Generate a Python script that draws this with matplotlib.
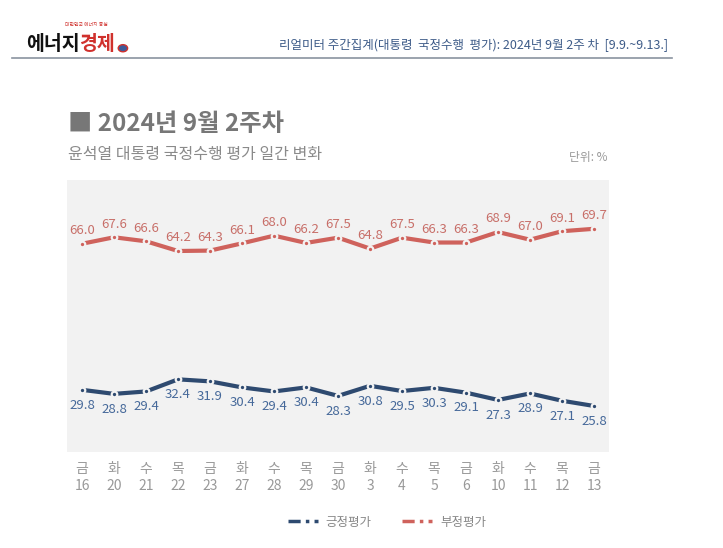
import matplotlib.pyplot as plt
from matplotlib.lines import Line2D
from matplotlib.patches import Circle

plt.rcParams['font.family'] = ['Noto Sans CJK KR', 'DejaVu Sans']
plt.rcParams['axes.unicode_minus'] = False

# data
days = ['금', '화', '수', '목', '금', '화', '수', '목', '금', '화', '수', '목', '금', '화', '수', '목', '금']
dates = ['16', '20', '21', '22', '23', '27', '28', '29', '30', '3', '4', '5', '6', '10', '11', '12', '13']
negative = [66.0, 67.6, 66.6, 64.2, 64.3, 66.1, 68.0, 66.2, 67.5, 64.8, 67.5, 66.3, 66.3, 68.9, 67.0, 69.1, 69.7]
positive = [29.8, 28.8, 29.4, 32.4, 31.9, 30.4, 29.4, 30.4, 28.3, 30.8, 29.5, 30.3, 29.1, 27.3, 28.9, 27.1, 25.8]

bg = '#f2f2f2'
red = '#cf625c'
blue = '#2e4a70'
red_txt = '#c86f69'
blue_txt = '#46699a'

fig = plt.figure(figsize=(7.23, 5.48), dpi=100)
ax = fig.add_axes([0.0927, 0.1752, 0.7497, 0.4964])
ax.set_facecolor(bg)
for s in ax.spines.values():
    s.set_visible(False)

x = list(range(len(days)))
line_kw = dict(linewidth=3, marker='o', markersize=4, markeredgewidth=1.6,
               markeredgecolor=bg, solid_capstyle='butt')
ax.plot(x, negative, color=red, markerfacecolor=red, **line_kw)
ax.plot(x, positive, color=blue, markerfacecolor=blue, **line_kw)

for i, v in enumerate(negative):
    ax.annotate(f'{v:.1f}', (i, v), xytext=(0, 9.5), textcoords='offset points',
                ha='center', va='center', fontsize=9.5, color=red_txt)
for i, v in enumerate(positive):
    ax.annotate(f'{v:.1f}', (i, v), xytext=(0, -11), textcoords='offset points',
                ha='center', va='center', fontsize=9.5, color=blue_txt)

ax.set_xlim(-0.47, len(days) - 1 + 0.47)
ax.set_ylim(14.4, 81.8)
ax.set_yticks([])
ax.set_xticks(x)
ax.set_xticklabels([f'{d}\n{n}' for d, n in zip(days, dates)], fontsize=10,
                   color='#999999', linespacing=1.3)
ax.tick_params(axis='x', length=0, pad=7)

# header logo
fig.text(0.036, 0.918, '에너지', fontsize=14, fontweight='black', color='#111111', va='center')
fig.text(0.110, 0.918, '경제', fontsize=14, fontweight='black', color='#d0312d', va='center')
fig.text(0.120, 0.955, '대한민국 에너지 중심', fontsize=3.5, color='#d0312d', va='center', ha='center')
fig.add_artist(Circle((0.170, 0.912), 0.0065, transform=fig.transFigure,
                      facecolor='#3d5b9a', edgecolor='#d0312d', linewidth=1.0))
fig.text(0.924, 0.917, '리얼미터 주간집계(대통령  국정수행  평가): 2024년 9월 2주 차  [9.9.~9.13.]',
         fontsize=9, color='#3d5b88', ha='right', va='center')
fig.add_artist(Line2D([0.017, 0.930], [0.894, 0.894], color='#8a93a0', linewidth=1.2))

# titles
fig.text(0.094, 0.774, '■ 2024년 9월 2주차', fontsize=17.5, fontweight='bold', color='#777777', va='center')
fig.text(0.094, 0.718, '윤석열 대통령 국정수행 평가 일간 변화', fontsize=11.5, color='#8a8a8a', va='center')
fig.text(0.840, 0.712, '단위: %', fontsize=8.5, color='#999999', ha='right', va='center')

# legend
handles = [Line2D([], [], color=blue, linewidth=2.5, dashes=(3.5, 1.5, 1, 1.5)),
           Line2D([], [], color=red, linewidth=2.5, dashes=(3.5, 1.5, 1, 1.5))]
fig.legend(handles, ['긍정평가', '부정평가'], loc='center', bbox_to_anchor=(0.535, 0.047),
           ncol=2, frameon=False, fontsize=9, labelcolor='#888888',
           handlelength=2.4, columnspacing=2.5, handletextpad=0.6)

fig.savefig('out.png', dpi=100)
